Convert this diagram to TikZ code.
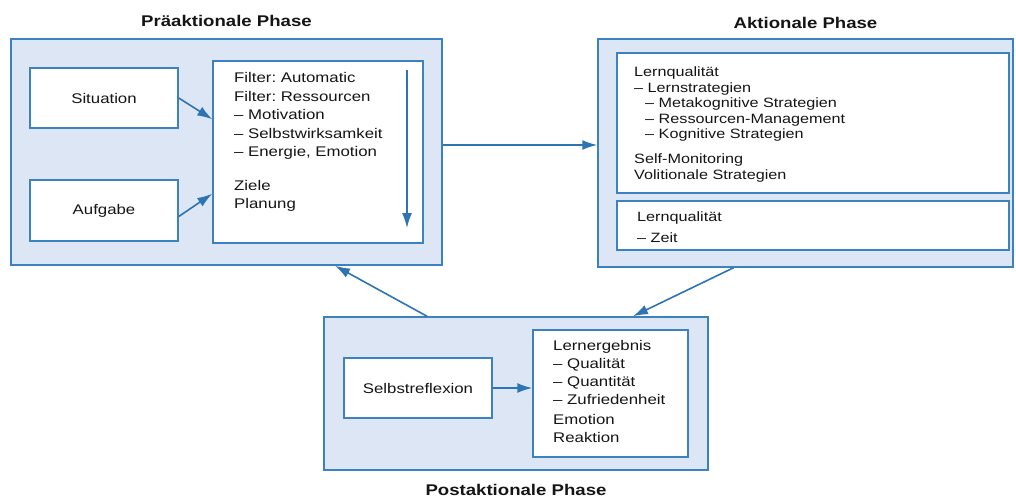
\documentclass[tikz,border=0pt]{standalone}
\usepackage{fontspec}
\setmainfont[FakeStretch=1.2]{Liberation Sans}
\frenchspacing
\usepackage{tikz}
\usetikzlibrary{arrows.meta,positioning}
\definecolor{phasefill}{HTML}{DDE6F5}
\definecolor{phaseline}{HTML}{3C82BE}
\definecolor{pfeilblau}{HTML}{2C74B3}
\definecolor{schrift}{HTML}{151515}
\tikzset{
    %Define style for phase boxes
    phase/.style={
           rectangle,
           draw=phaseline, line width=1.5pt,
           fill=phasefill},
    %Define style for white boxes
    feld/.style={
           rectangle,
           draw=phaseline, line width=1.5pt,
           fill=white,
           text=schrift,
           font=\fontsize{14}{16}\selectfont},
    %Define style for phase titles
    titel/.style={
           font=\bfseries\fontsize{15.5}{18}\selectfont,
           text=schrift},
    %Define style for text lists
    liste/.style={
           anchor=north west,
           inner sep=0pt,
           align=left,
           text=schrift},
    % Define arrow style
    pil/.style={
           -{Latex[length=15pt,width=10pt]},
           draw=pfeilblau,
           fill=pfeilblau,
           line width=1.6pt}
}
\begin{document}
\begin{tikzpicture}[x=1pt,y=1pt]
\useasboundingbox (0,0) rectangle (1016,-497);
% phases
\node[phase, minimum width=431pt, minimum height=226pt](pre) at (226.5,-152) {};
\node[phase, minimum width=415pt, minimum height=228pt](akt) at (805.5,-153) {};
\node[phase, minimum width=384pt, minimum height=153pt](post) at (516,-393.5) {};
\node[titel, above=8pt of pre](pretitel){Präaktionale Phase};
\node[titel, above=6pt of akt](akttitel){Aktionale Phase};
\node[titel, below=10pt of post](posttitel){Postaktionale Phase};
% boxes
\node[feld, minimum width=148pt, minimum height=60pt](sit) at (104,-98) {Situation};
\node[feld, minimum width=148pt, minimum height=61pt](auf) at (104,-210.5) {Aufgabe};
\node[feld, minimum width=210pt, minimum height=182pt](filter) at (318,-152) {};
\node[feld, minimum width=392pt, minimum height=140pt](lernq) at (813,-123) {};
\node[feld, minimum width=392pt, minimum height=49pt](zeit) at (813,-225.5) {};
\node[feld, minimum width=148pt, minimum height=60pt](selbst) at (418,-388) {Selbstreflexion};
\node[feld, minimum width=155pt, minimum height=127pt](ergebnis) at (610.5,-393.5) {};
% texts
\node[liste, font=\fontsize{14}{18.5}\selectfont](filtertext) at (234,-72.5)
  {Filter: Automatic\\Filter: Ressourcen\\– Motivation\\– Selbstwirksamkeit\\– Energie, Emotion\\[15pt]Ziele\\Planung};
\node[liste, font=\fontsize{13.5}{15.5}\selectfont](lernqtext) at (634,-67)
  {Lernqualität\\– Lernstrategien\\\hspace*{11pt}– Metakognitive Strategien\\\hspace*{11pt}– Ressourcen-Management\\\hspace*{11pt}– Kognitive Strategien\\[9.5pt]Self-Monitoring\\Volitionale Strategien};
\node[liste, font=\fontsize{13.5}{21}\selectfont](zeittext) at (637,-212)
  {Lernqualität\\– Zeit};
\node[liste, font=\fontsize{14}{18}\selectfont](ergebnistext) at (553,-340)
  {Lernergebnis\\– Qualität\\– Quantität\\– Zufriedenheit\\[2pt]Emotion\\Reaktion};
\coordinate (fa) at (407,-70);
\coordinate (fb) at (407,-228);
% arrows
\draw[pil] (sit.east) -- ([yshift=-59pt]filter.north west);
\draw[pil] ([yshift=-6pt]auf.east) -- ([yshift=50pt]filter.south west);
\draw[pil] (fa) -- (fb);
\draw[pil] ([yshift=7pt]pre.east) -- ([yshift=8pt]akt.west);
\draw[pil] ([xshift=-72pt]akt.south) -- ([xshift=117pt]post.north);
\draw[pil] ([xshift=-89pt]post.north) -- ([xshift=108.5pt]pre.south);
\draw[pil] (selbst.east) -- (selbst.east -| ergebnis.west);
\end{tikzpicture}
\end{document}
